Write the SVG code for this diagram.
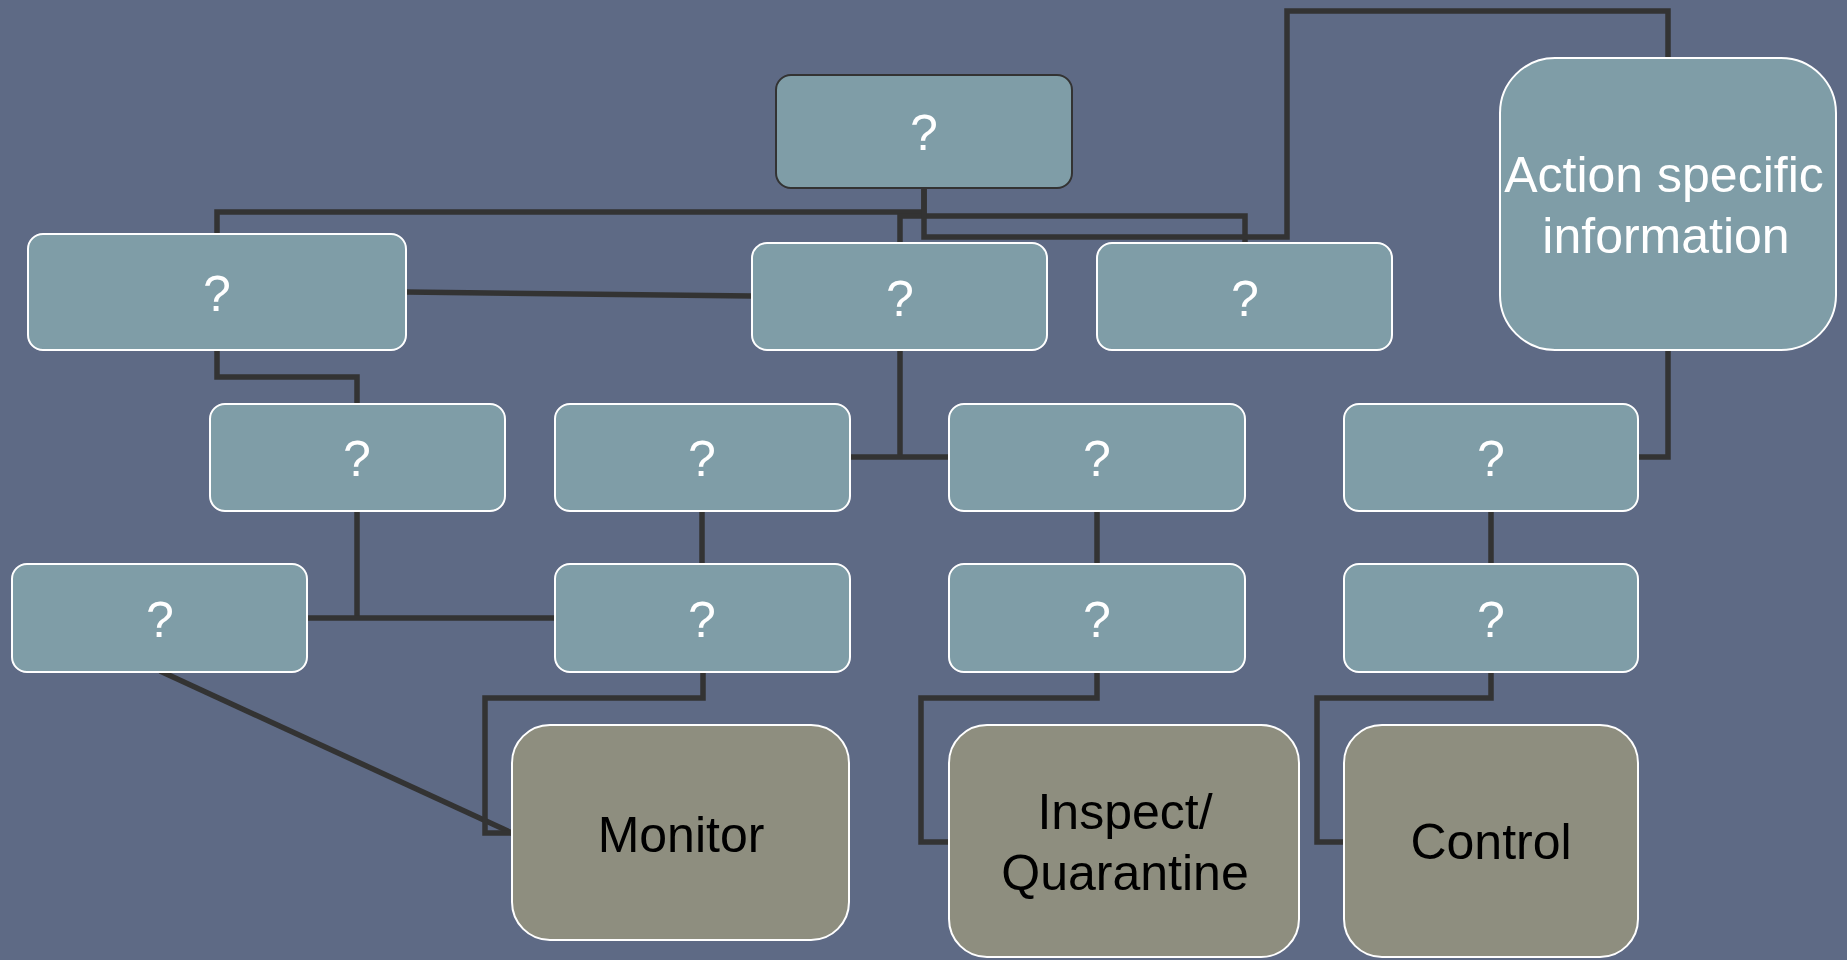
<svg xmlns="http://www.w3.org/2000/svg" width="1847" height="960" viewBox="0 0 1847 960">
  <style>
    .bg { fill: #5E6A85; }
    .box { fill: #7F9DA7; stroke: #FFFFFF; stroke-width: 2; }
    .top { fill: #7F9DA7; stroke: #333333; stroke-width: 2; }
    .act { fill: #8E8E7F; stroke: #FFFFFF; stroke-width: 2; }
    .q { font-family: "Liberation Sans", Arial, sans-serif; font-size: 50px; fill: #FFFFFF; text-anchor: middle; }
    .lbl { font-family: "Liberation Sans", Arial, sans-serif; font-size: 50px; fill: #000000; text-anchor: middle; }
    .wire { fill: none; stroke: #333333; stroke-width: 5.5; stroke-linejoin: miter; }
  </style>

  <rect class="bg" x="0" y="0" width="1847" height="960"/>

  <!-- connectors, drawn beneath the boxes -->
  <g id="connectors">
    <path class="wire" d="M924,188 V212 H217 V234"/>
    <path class="wire" d="M900,243 V216 H1245 V243"/>
    <path class="wire" d="M924,188 V237 H1287 V11 H1668 V58"/>
    <path class="wire" d="M406,292 L752,296"/>
    <path class="wire" d="M217,350 V377 H357 V404"/>
    <path class="wire" d="M900,350 V457"/>
    <path class="wire" d="M850,457 H949"/>
    <path class="wire" d="M1668,350 V457 H1638"/>
    <path class="wire" d="M357,511 V618"/>
    <path class="wire" d="M307,618 H555"/>
    <path class="wire" d="M702,511 V564"/>
    <path class="wire" d="M1097,511 V564"/>
    <path class="wire" d="M1491,511 V564"/>
    <path class="wire" d="M160,671 L512,833"/>
    <path class="wire" d="M703,672 V698 H485 V833 H512"/>
    <path class="wire" d="M1097,672 V698 H921 V842 H949"/>
    <path class="wire" d="M1491,672 V698 H1317 V842 H1344"/>
  </g>

  <!-- root -->
  <g id="root">
    <rect class="top" x="776" y="75" width="296" height="113" rx="15"/>
    <text class="q" x="924" y="150">?</text>
  </g>

  <!-- second row -->
  <g id="n2a">
    <rect class="box" x="28" y="234" width="378" height="116" rx="15"/>
    <text class="q" x="217" y="311">?</text>
  </g>
  <g id="n2b">
    <rect class="box" x="752" y="243" width="295" height="107" rx="15"/>
    <text class="q" x="900" y="316">?</text>
  </g>
  <g id="n2c">
    <rect class="box" x="1097" y="243" width="295" height="107" rx="15"/>
    <text class="q" x="1245" y="316">?</text>
  </g>
  <g id="info">
    <rect class="box" x="1500" y="58" width="336" height="292" rx="55"/>
    <text class="q" x="1664" y="192">Action specific</text>
    <text class="q" x="1666" y="253">information</text>
  </g>

  <!-- third row -->
  <g id="n3a">
    <rect class="box" x="210" y="404" width="295" height="107" rx="15"/>
    <text class="q" x="357" y="476">?</text>
  </g>
  <g id="n3b">
    <rect class="box" x="555" y="404" width="295" height="107" rx="15"/>
    <text class="q" x="702" y="476">?</text>
  </g>
  <g id="n3c">
    <rect class="box" x="949" y="404" width="296" height="107" rx="15"/>
    <text class="q" x="1097" y="476">?</text>
  </g>
  <g id="n3d">
    <rect class="box" x="1344" y="404" width="294" height="107" rx="15"/>
    <text class="q" x="1491" y="476">?</text>
  </g>

  <!-- fourth row -->
  <g id="n4a">
    <rect class="box" x="12" y="564" width="295" height="108" rx="15"/>
    <text class="q" x="160" y="637">?</text>
  </g>
  <g id="n4b">
    <rect class="box" x="555" y="564" width="295" height="108" rx="15"/>
    <text class="q" x="702" y="637">?</text>
  </g>
  <g id="n4c">
    <rect class="box" x="949" y="564" width="296" height="108" rx="15"/>
    <text class="q" x="1097" y="637">?</text>
  </g>
  <g id="n4d">
    <rect class="box" x="1344" y="564" width="294" height="108" rx="15"/>
    <text class="q" x="1491" y="637">?</text>
  </g>

  <!-- actions -->
  <g id="monitor">
    <rect class="act" x="512" y="725" width="337" height="215" rx="38"/>
    <text class="lbl" x="681" y="852">Monitor</text>
  </g>
  <g id="inspect">
    <rect class="act" x="949" y="725" width="350" height="232" rx="38"/>
    <text class="lbl" x="1125" y="829">Inspect/</text>
    <text class="lbl" x="1125" y="890">Quarantine</text>
  </g>
  <g id="control">
    <rect class="act" x="1344" y="725" width="294" height="232" rx="38"/>
    <text class="lbl" x="1491" y="859">Control</text>
  </g>
</svg>
